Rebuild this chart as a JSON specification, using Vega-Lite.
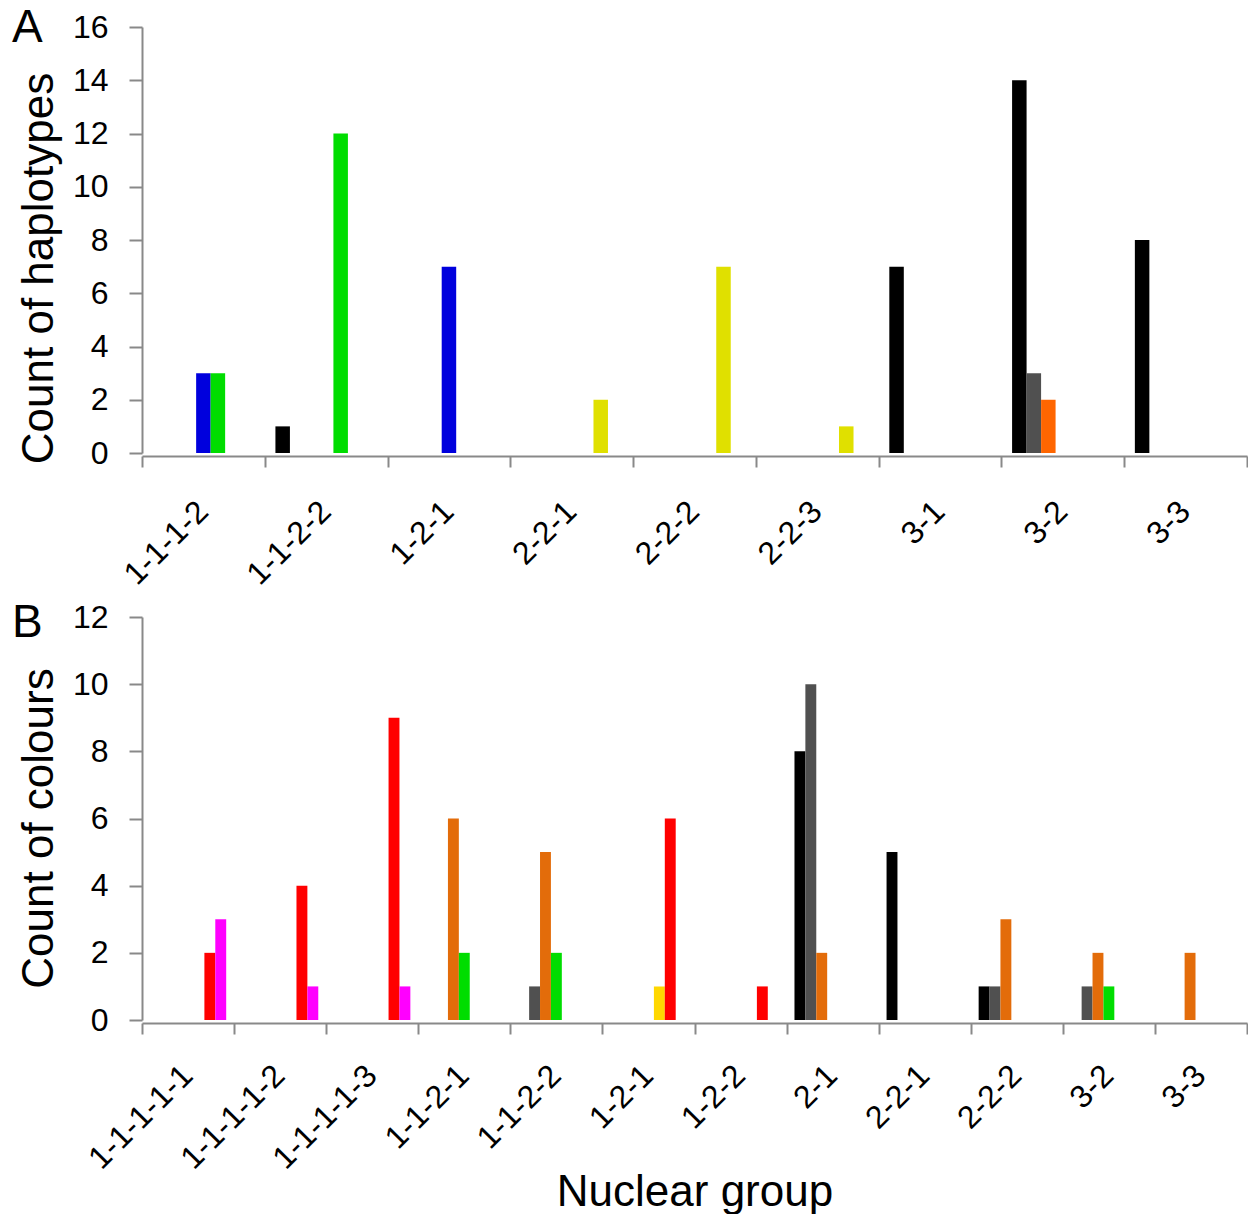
{
  "$schema": "https://vega.github.io/schema/vega-lite/v6.json",
  "padding": {"top": 5, "left": 12, "right": 0, "bottom": 0},
  "background": "white",
  "bounds": "flush",
  "spacing": 164,
  "config": {
    "font": "Liberation Sans",
    "view": {"stroke": null},
    "axis": {
      "grid": false,
      "domainColor": "#898989",
      "tickColor": "#898989",
      "domainWidth": 2,
      "tickWidth": 2,
      "labelColor": "#000000",
      "titleColor": "#000000",
      "labelFont": "Liberation Sans",
      "titleFont": "Liberation Sans",
      "titleFontWeight": "normal"
    },
    "title": {"font": "Liberation Sans", "fontWeight": "normal", "color": "#000000"}
  },
  "resolve": {"scale": {"color": "independent", "xOffset": "independent", "x": "independent", "y": "independent"}},
  "vconcat": [
    {
      "width": 1105,
      "height": 426,
      "title": {"text": "A", "anchor": "start", "frame": "group", "fontSize": 46, "baseline": "alphabetic", "offset": -46, "dx": -130, "dy": 31},
      "data": {"values": [
        {"group": "1-1-1-2", "series": "blue", "count": 3},
        {"group": "1-1-1-2", "series": "green", "count": 3},
        {"group": "1-1-2-2", "series": "black", "count": 1},
        {"group": "1-1-2-2", "series": "green", "count": 12},
        {"group": "1-2-1", "series": "blue", "count": 7},
        {"group": "2-2-1", "series": "yellow", "count": 2},
        {"group": "2-2-2", "series": "yellow", "count": 7},
        {"group": "2-2-3", "series": "yellow", "count": 1},
        {"group": "3-1", "series": "black", "count": 7},
        {"group": "3-2", "series": "black", "count": 14},
        {"group": "3-2", "series": "gray", "count": 3},
        {"group": "3-2", "series": "orange", "count": 2},
        {"group": "3-3", "series": "black", "count": 8}
      ]},
      "mark": {"type": "bar"},
      "encoding": {
        "x": {
          "field": "group", "type": "nominal",
          "sort": ["1-1-1-2", "1-1-2-2", "1-2-1", "2-2-1", "2-2-2", "2-2-3", "3-1", "3-2", "3-3"],
          "scale": {"domain": ["1-1-1-2", "1-1-2-2", "1-2-1", "2-2-1", "2-2-2", "2-2-3", "3-1", "3-2", "3-3"], "paddingInner": 0, "paddingOuter": 0},
          "axis": {
            "title": null, "tickBand": "extent", "labelAngle": -45, "labelAlign": "right", "labelBaseline": "middle",
            "labelFontSize": 32, "labelPadding": 39, "labelOffset": -1, "tickSize": 11, "offset": 3, "labelOverlap": false, "labelLimit": 400
          }
        },
        "xOffset": {
          "field": "series", "type": "nominal",
          "scale": {"domain": ["black", "gray", "orange", "blue", "green", "yellow", "other"], "paddingInner": 0, "paddingOuter": 0.734}
        },
        "y": {
          "field": "count", "type": "quantitative",
          "scale": {"domain": [0, 16], "nice": false},
          "axis": {
            "title": "Count of haplotypes", "titleFontSize": 44, "titleX": -90, "titleY": 241, "titleAlign": "center", "titleBaseline": "alphabetic", "titleAngle": -90,
            "values": [0, 2, 4, 6, 8, 10, 12, 14, 16], "labelFontSize": 32, "labelPadding": 21, "tickSize": 13
          }
        },
        "color": {
          "field": "series", "type": "nominal", "legend": null,
          "scale": {"domain": ["black", "gray", "orange", "blue", "green", "yellow", "other"], "range": ["#000000", "#505050", "#FF6600", "#0000DD", "#00DD00", "#E0E000", "#999999"]}
        }
      }
    },
    {
      "width": 1105,
      "height": 403,
      "title": {"text": "B", "anchor": "start", "frame": "group", "fontSize": 46, "baseline": "alphabetic", "offset": -47, "dx": -130, "dy": 35},
      "data": {"values": [
        {"group": "1-1-1-1-1", "series": "red", "count": 2},
        {"group": "1-1-1-1-1", "series": "magenta", "count": 3},
        {"group": "1-1-1-1-2", "series": "red", "count": 4},
        {"group": "1-1-1-1-2", "series": "magenta", "count": 1},
        {"group": "1-1-1-1-3", "series": "red", "count": 9},
        {"group": "1-1-1-1-3", "series": "magenta", "count": 1},
        {"group": "1-1-2-1", "series": "orange", "count": 6},
        {"group": "1-1-2-1", "series": "green", "count": 2},
        {"group": "1-1-2-2", "series": "gray", "count": 1},
        {"group": "1-1-2-2", "series": "orange", "count": 5},
        {"group": "1-1-2-2", "series": "green", "count": 2},
        {"group": "1-2-1", "series": "yellow", "count": 1},
        {"group": "1-2-1", "series": "red", "count": 6},
        {"group": "1-2-2", "series": "red", "count": 1},
        {"group": "2-1", "series": "black", "count": 8},
        {"group": "2-1", "series": "gray", "count": 10},
        {"group": "2-1", "series": "orange", "count": 2},
        {"group": "2-2-1", "series": "black", "count": 5},
        {"group": "2-2-2", "series": "black", "count": 1},
        {"group": "2-2-2", "series": "gray", "count": 1},
        {"group": "2-2-2", "series": "orange", "count": 3},
        {"group": "3-2", "series": "gray", "count": 1},
        {"group": "3-2", "series": "orange", "count": 2},
        {"group": "3-2", "series": "green", "count": 1},
        {"group": "3-3", "series": "orange", "count": 2}
      ]},
      "mark": {"type": "bar"},
      "encoding": {
        "x": {
          "field": "group", "type": "nominal",
          "sort": ["1-1-1-1-1", "1-1-1-1-2", "1-1-1-1-3", "1-1-2-1", "1-1-2-2", "1-2-1", "1-2-2", "2-1", "2-2-1", "2-2-2", "3-2", "3-3"],
          "scale": {"domain": ["1-1-1-1-1", "1-1-1-1-2", "1-1-1-1-3", "1-1-2-1", "1-1-2-2", "1-2-1", "1-2-2", "2-1", "2-2-1", "2-2-2", "3-2", "3-3"], "paddingInner": 0, "paddingOuter": 0},
          "axis": {
            "title": "Nuclear group", "titleFontSize": 44, "titleX": 552.5, "titleY": 182, "titleAlign": "center", "titleBaseline": "alphabetic",
            "tickBand": "extent", "labelAngle": -45, "labelAlign": "right", "labelBaseline": "middle",
            "labelFontSize": 32, "labelPadding": 36, "labelOffset": -1, "tickSize": 11, "offset": 3, "labelOverlap": false, "labelLimit": 400
          }
        },
        "xOffset": {
          "field": "series", "type": "nominal",
          "scale": {"domain": ["black", "gray", "orange", "green", "yellow", "red", "magenta"], "paddingInner": 0, "paddingOuter": 0.724}
        },
        "y": {
          "field": "count", "type": "quantitative",
          "scale": {"domain": [0, 12], "nice": false},
          "axis": {
            "title": "Count of colours", "titleFontSize": 44, "titleX": -90, "titleY": 211, "titleAlign": "center", "titleBaseline": "alphabetic", "titleAngle": -90,
            "values": [0, 2, 4, 6, 8, 10, 12], "labelFontSize": 32, "labelPadding": 21, "tickSize": 13
          }
        },
        "color": {
          "field": "series", "type": "nominal", "legend": null,
          "scale": {"domain": ["black", "gray", "orange", "green", "yellow", "red", "magenta"], "range": ["#000000", "#505050", "#E36C0A", "#00DD00", "#FFD700", "#FF0000", "#FF00FF"]}
        }
      }
    }
  ]
}
